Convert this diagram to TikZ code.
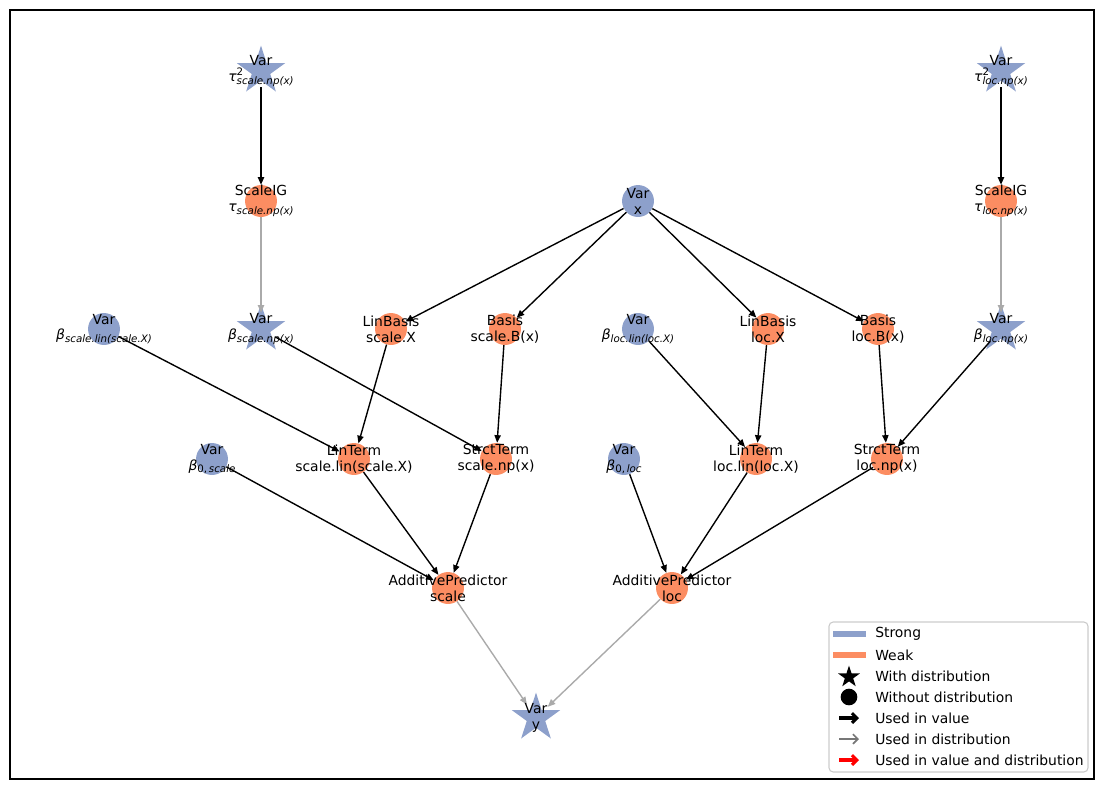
\documentclass[tikz,border=0pt]{standalone}
\usepackage{fontspec}
\setmainfont{DejaVu Sans}
\usetikzlibrary{shapes.geometric,arrows.meta}
\definecolor{strongc}{HTML}{8DA0CB}
\definecolor{weakc}{HTML}{FC8D62}
\definecolor{distc}{HTML}{AAAAAA}
\definecolor{legc}{HTML}{CCCCCC}
\definecolor{legdist}{HTML}{777777}
\newcommand{\ssz}[1]{\mbox{\fontsize{7.4}{7.4}\selectfont #1}}
\newcommand{\ssi}[1]{\mbox{\fontsize{7.4}{7.4}\selectfont\itshape #1}}
\newcommand{\gr}[1]{\mbox{\itshape #1}}
\newcommand{\supsub}[2]{\makebox[0pt][l]{\raisebox{4.6pt}{\ssz{#1}}}\raisebox{-2pt}{\ssi{#2}}}
\newcommand{\sub}[1]{\raisebox{-2pt}{#1}}
\begin{document}
\begin{tikzpicture}[x=0.72pt,y=-0.72pt,
  mk/.style={circle,minimum size=23pt,inner sep=0pt},
  strongmk/.style={mk,fill=strongc},
  weakmk/.style={mk,fill=weakc},
  starmk/.style={star,star points=5,star point ratio=2.618,minimum size=36.5pt,inner sep=0pt,fill=strongc},
  lab/.style={align=center,inner sep=0pt,font=\fontsize{10}{11.5}\selectfont},
  val/.style={draw=black,line width=1pt,-{Triangle[length=5.5pt,width=4.5pt]}},
  dist/.style={draw=distc,line width=1pt,-{Triangle[length=5.5pt,width=4.5pt]}},
  legtext/.style={anchor=west,inner sep=0pt,font=\fontsize{10}{12}\selectfont},
]
\useasboundingbox (0,0) rectangle (1105,790);
\draw[line width=0.8pt] (10,10) rectangle (1094,779);

% star markers
\node[starmk] (tauS-m) at (261,71) {};
\node[starmk] (tauL-m) at (1001,71) {};
\node[starmk] (bNpS-m) at (261,329) {};
\node[starmk] (bNpL-m) at (1001,329) {};
\node[starmk] (y-m) at (536,718) {};
% anchor circles for stars
\node[mk] (tauS) at (261,71) {};
\node[mk] (tauL) at (1001,71) {};
\node[mk] (bNpS) at (261,329) {};
\node[mk] (bNpL) at (1001,329) {};
\node[mk] (y) at (536,718) {};
% circle nodes
\node[weakmk] (sigS) at (261,201) {};
\node[weakmk] (sigL) at (1001,201) {};
\node[strongmk] (x) at (638,201) {};
\node[strongmk] (bLinS) at (104,329) {};
\node[weakmk] (linBS) at (391,329) {};
\node[weakmk] (basS) at (505,329) {};
\node[strongmk] (bLinL) at (638,329) {};
\node[weakmk] (linBL) at (768,329) {};
\node[weakmk] (basL) at (878,329) {};
\node[strongmk] (b0S) at (212,459) {};
\node[weakmk] (ltS) at (354,459) {};
\node[weakmk] (stS) at (496,459) {};
\node[strongmk] (b0L) at (624,459) {};
\node[weakmk] (ltL) at (756,459) {};
\node[weakmk] (stL) at (887,459) {};
\node[weakmk] (apS) at (448,588) {};
\node[weakmk] (apL) at (672,588) {};

% edges
\draw[val] (tauS) -- (sigS);
\draw[val] (tauL) -- (sigL);
\draw[dist] (sigS) -- (bNpS);
\draw[dist] (sigL) -- (bNpL);
\draw[val] (x) -- (linBS);
\draw[val] (x) -- (basS);
\draw[val] (x) -- (linBL);
\draw[val] (x) -- (basL);
\draw[val] (bLinS) -- (ltS);
\draw[val] (linBS) -- (ltS);
\draw[val] (bNpS) -- (stS);
\draw[val] (basS) -- (stS);
\draw[val] (bLinL) -- (ltL);
\draw[val] (linBL) -- (ltL);
\draw[val] (basL) -- (stL);
\draw[val] (bNpL) -- (stL);
\draw[val] (b0S) -- (apS);
\draw[val] (ltS) -- (apS);
\draw[val] (stS) -- (apS);
\draw[val] (b0L) -- (apL);
\draw[val] (ltL) -- (apL);
\draw[val] (stL) -- (apL);
\draw[dist] (apS) -- (y);
\draw[dist] (apL) -- (y);

% labels
\node[lab] (tauS-t) at (tauS) {Var\\\gr{τ}\supsub{2}{scale.np(x)}};
\node[lab] (tauL-t) at (tauL) {Var\\\gr{τ}\supsub{2}{loc.np(x)}};
\node[lab] (sigS-t) at (sigS) {ScaleIG\\\gr{τ}\sub{\ssi{scale.np(x)}}};
\node[lab] (sigL-t) at (sigL) {ScaleIG\\\gr{τ}\sub{\ssi{loc.np(x)}}};
\node[lab] (x-t) at (x) {Var\\x};
\node[lab] (bLinS-t) at (bLinS) {Var\\\gr{β}\sub{\ssi{scale.lin(scale.X)}}};
\node[lab] (bNpS-t) at (bNpS) {Var\\\gr{β}\sub{\ssi{scale.np(x)}}};
\node[lab] (linBS-t) at (linBS) {LinBasis\\scale.X};
\node[lab] (basS-t) at (basS) {Basis\\scale.B(x)};
\node[lab] (bLinL-t) at (bLinL) {Var\\\gr{β}\sub{\ssi{loc.lin(loc.X)}}};
\node[lab] (linBL-t) at (linBL) {LinBasis\\loc.X};
\node[lab] (basL-t) at (basL) {Basis\\loc.B(x)};
\node[lab] (bNpL-t) at (bNpL) {Var\\\gr{β}\sub{\ssi{loc.np(x)}}};
\node[lab] (b0S-t) at (b0S) {Var\\\gr{β}\sub{\ssz{0,\,}\ssi{scale}}};
\node[lab] (ltS-t) at (ltS) {LinTerm\\scale.lin(scale.X)};
\node[lab] (stS-t) at (stS) {StrctTerm\\scale.np(x)};
\node[lab] (b0L-t) at (b0L) {Var\\\gr{β}\sub{\ssz{0,\,}\ssi{loc}}};
\node[lab] (ltL-t) at (ltL) {LinTerm\\loc.lin(loc.X)};
\node[lab] (stL-t) at (stL) {StrctTerm\\loc.np(x)};
\node[lab] (apS-t) at (apS) {AdditivePredictor\\scale};
\node[lab] (apL-t) at (apL) {AdditivePredictor\\loc};
\node[lab] (y-t) at (y) {Var\\y};

% legend
\draw[legc, line width=0.8pt, rounded corners=3pt, fill=white, fill opacity=0.8] (829,622) rectangle (1088,772);
\draw[strongc, line width=4pt] (833,634) -- (866,634);
\draw[weakc, line width=4pt] (833,655) -- (866,655);
\node[star,star points=5,star point ratio=2.618,minimum size=16.5pt,inner sep=0pt,fill=black] (lg-star) at (849,677) {};
\node[circle,minimum size=12pt,inner sep=0pt,fill=black] (lg-circ) at (849,697) {};
\draw[black, line width=2.2pt, -{Straight Barb[length=3.5pt,width=7pt]}] (839,718) -- (859,718);
\draw[legdist, line width=1.2pt, -{Straight Barb[length=3.5pt,width=7pt]}] (839,739) -- (859,739);
\draw[red, line width=2.2pt, -{Straight Barb[length=3.5pt,width=7pt]}] (839,760) -- (859,760);
\node[legtext] (lg1) at (875,634) {Strong};
\node[legtext] (lg2) at (875,655) {Weak};
\node[legtext] (lg3) at (875,676) {With distribution};
\node[legtext] (lg4) at (875,697) {Without distribution};
\node[legtext] (lg5) at (875,718) {Used in value};
\node[legtext] (lg6) at (875,739) {Used in distribution};
\node[legtext] (lg7) at (875,760) {Used in value and distribution};
\end{tikzpicture}
\end{document}
